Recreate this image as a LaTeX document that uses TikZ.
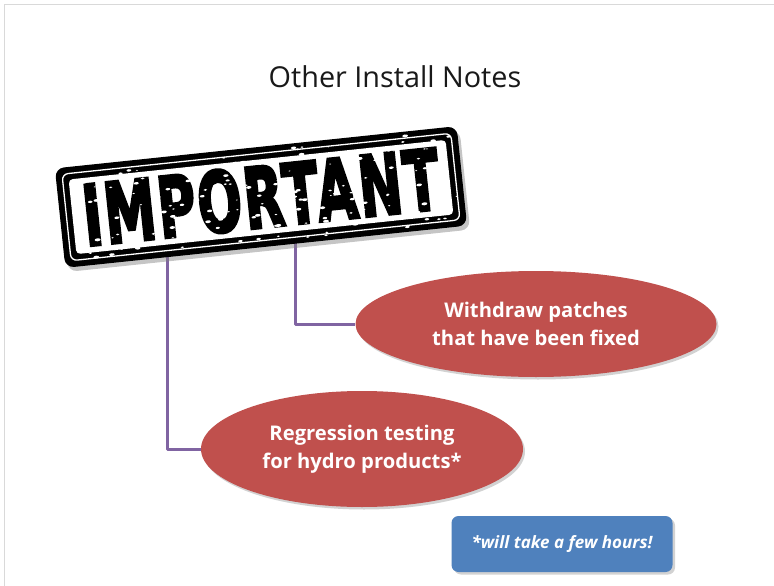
\documentclass[tikz,border=0pt]{standalone}
\usepackage{fontspec}
\setmainfont{Open Sans}
\newfontfamily\stampfont{DejaVu Sans}[LetterSpace=4,BoldFeatures={FakeBold=4}]
\usetikzlibrary{shapes.geometric,shadows}
\definecolor{ellred}{HTML}{C0504D}
\definecolor{boxblue}{HTML}{4F81BD}
\definecolor{connpurple}{HTML}{8064A2}
\definecolor{frameline}{HTML}{D9D9D9}
\tikzset{
  conn/.style={draw=connpurple,line width=3pt,line join=round},
  bubble/.style={ellipse,fill=ellred,text=white,inner sep=0pt,align=center,
    font=\fontsize{20.2}{28}\selectfont\bfseries,
    drop shadow={opacity=0.35,shadow xshift=2pt,shadow yshift=-2.5pt}},
  notebox/.style={rectangle,rounded corners=7pt,fill=boxblue,text=white,
    minimum width=221pt,minimum height=56pt,inner sep=0pt,
    font=\fontsize{17}{20}\selectfont\bfseries\itshape,
    drop shadow={opacity=0.35,shadow xshift=2.5pt,shadow yshift=-2.5pt}},
  titletext/.style={font=\fontsize{28.8}{34}\selectfont,text=black!90,inner sep=0pt}
}
\begin{document}
\begin{tikzpicture}[x=1pt,y=-1pt]
\useasboundingbox (0,0) rectangle (774,586);
\fill[white] (0,0) rectangle (774,586);
\draw[frameline,line width=1pt] (4,586) -- (4,5) -- (774,5);

% title
\node[titletext,anchor=base] (title) at (395,88) {Other Install Notes};

% ellipses
\node[bubble,minimum width=361pt,minimum height=106pt] (e1) at (536,324)
  {Withdraw patches\\that have been fixed};
\node[bubble,minimum width=322pt,minimum height=116pt] (e2) at (362,449)
  {Regression testing\\for hydro products*};

% connector start points under the stamp
\coordinate (s1) at (167,240);
\coordinate (s2) at (295,230);
\draw[conn] (s1) |- (e2.west);
\draw[conn] (s2) |- (e1.west);

% stamp
\begin{scope}[shift={(261,197)},rotate=6,transform shape]
  \node[rectangle,rounded corners=9pt,fill=black,minimum width=404pt,minimum height=100pt,
        inner sep=0pt,
        drop shadow={opacity=0.45,shadow xshift=3pt,shadow yshift=-4pt}] (stamp) at (0,0) {};
  \node[rectangle,rounded corners=6pt,draw=white,line width=1.3pt,minimum width=391pt,
        minimum height=87pt,inner sep=0pt] (stampline) at (0,0) {};
  \node[rectangle,rounded corners=4pt,fill=white,minimum width=379pt,minimum height=75pt,
        inner sep=0pt] (stampin) at (0,0) {};
  \node[inner sep=0pt,text=black] (stampword) at (0,0)
    {\resizebox{358pt}{62pt}{\stampfont\bfseries IMPORTANT}};
  \pgfmathsetseed{7}
  \foreach \k in {1,...,190}{
    \pgfmathsetmacro\px{rand*196}
    \pgfmathsetmacro\py{rand*46}
    \pgfmathsetmacro\pr{0.6+1.3*rnd}
    \fill[white] (\px,\py) ellipse ({\pr*1.6pt} and {\pr*0.8pt});
  }
\end{scope}

% note box
\node[notebox] (note) at (562,544) {*will take a few hours!};
\end{tikzpicture}
\end{document}
